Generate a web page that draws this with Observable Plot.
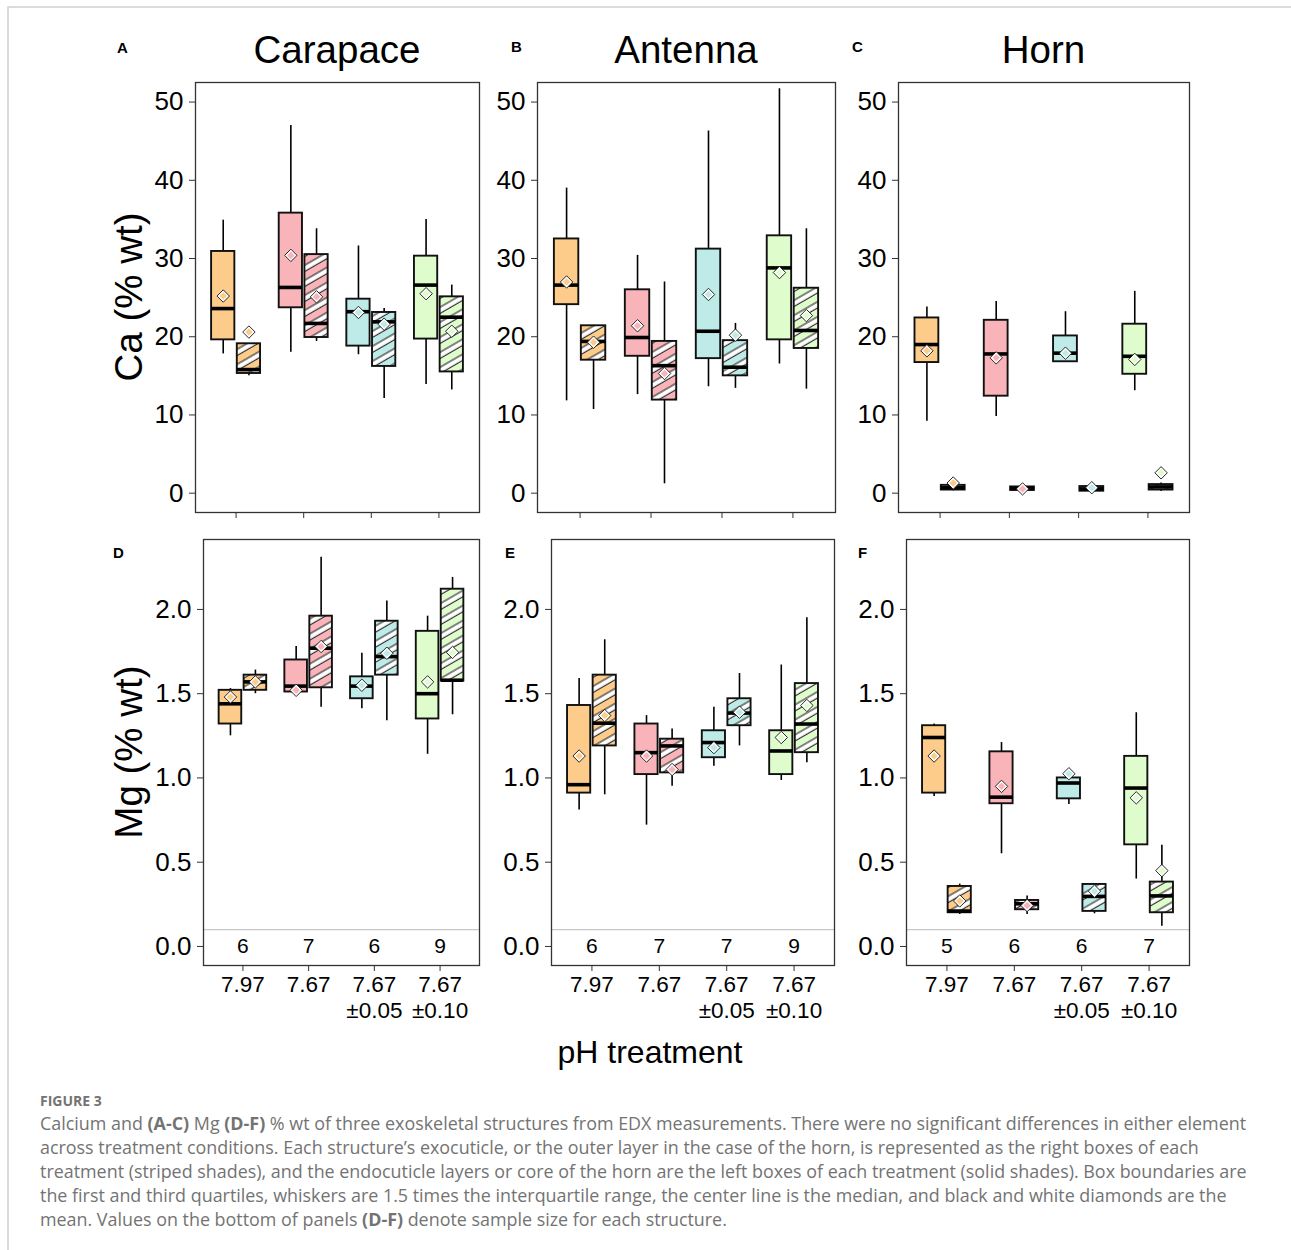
<!DOCTYPE html>
<html>
<head>
<meta charset="utf-8">
<script src="https://cdn.jsdelivr.net/npm/d3@7"></script>
<script src="https://cdn.jsdelivr.net/npm/@observablehq/plot@0.6"></script>
<style>
  body { margin: 0; background: #fff; }
  #fig { position: relative; width: 1291px; height: 1250px; overflow: hidden; font-family: "Liberation Sans", Arial, sans-serif; }
  .panel { position: absolute; }
  #overlay { position: absolute; left: 0; top: 0; pointer-events: none; }
</style>
</head>
<body>
<div id="fig">
  <svg width="0" height="0" style="position:absolute">
    <defs>
      <pattern id="stripes" patternUnits="userSpaceOnUse" width="13" height="13" patternTransform="rotate(-30)">
        <rect x="0" y="3" width="13" height="5.4" fill="white"></rect>
        <line x1="0" y1="3" x2="13" y2="3" stroke="#222" stroke-width="1.1"></line>
        <line x1="0" y1="8.4" x2="13" y2="8.4" stroke="#222" stroke-width="1.1"></line>
      </pattern>
    </defs>
  </svg>
</div>
<script>
// ---------- data ----------
const treatments = ["7.97", "7.67", "7.67\n±0.05", "7.67\n±0.10"];
const layers = ["endocuticle / core (solid)", "exocuticle / outer layer (striped)"];
const treatmentFills = ["#FDCB8A", "#F9B4BA", "#BEEAE8", "#DFFDCC"];

// rows: [lower whisker, Q1, median, Q3, upper whisker, mean]
// order: 7.97 solid, 7.97 striped, 7.67 solid, 7.67 striped, ±0.05 solid, ±0.05 striped, ±0.10 solid, ±0.10 striped
const caCarapace = [
  [17.8, 19.6, 23.6, 30.9, 34.9, 25.2],
  [15.0, 15.3, 15.8, 19.1, 19.1, 20.6],
  [18.0, 23.7, 26.3, 35.8, 47.0, 30.4],
  [19.4, 19.9, 21.7, 30.5, 33.8, 25.1],
  [17.7, 18.8, 23.2, 24.8, 31.6, 23.1],
  [12.1, 16.2, 21.9, 23.1, 23.6, 21.6],
  [13.9, 19.7, 26.6, 30.3, 35.0, 25.5],
  [13.2, 15.5, 22.5, 25.1, 26.6, 20.7]
];
const caAntenna = [
  [11.8, 24.1, 26.6, 32.5, 39.0, 27.0],
  [10.7, 17.0, 19.4, 21.4, 21.4, 19.3],
  [12.6, 17.5, 19.9, 26.0, 30.4, 21.4],
  [1.2, 11.9, 16.3, 19.4, 27.0, 15.3],
  [13.6, 17.2, 20.7, 31.2, 46.3, 25.4],
  [13.4, 15.0, 16.1, 19.5, 21.7, 20.2],
  [16.5, 19.6, 28.8, 32.9, 51.7, 28.2],
  [13.3, 18.5, 20.8, 26.2, 33.8, 22.7]
];
const caHorn = [
  [9.2, 16.7, 19.0, 22.4, 23.8, 18.2],
  [0.3, 0.4, 0.7, 1.0, 1.1, 1.3],
  [9.8, 12.4, 17.8, 22.1, 24.5, 17.3],
  [0.3, 0.35, 0.6, 0.8, 0.8, 0.55],
  [16.8, 16.8, 17.9, 20.1, 23.2, 17.9],
  [0.25, 0.25, 0.55, 0.85, 0.85, 0.7],
  [13.1, 15.2, 17.5, 21.6, 25.8, 17.1],
  [0.2, 0.4, 0.8, 1.1, 1.3, 2.6]
];
const mgCarapace = [
  [1.25, 1.32, 1.44, 1.52, 1.53, 1.48],
  [1.50, 1.52, 1.57, 1.61, 1.64, 1.57],
  [1.51, 1.51, 1.545, 1.70, 1.78, 1.52],
  [1.42, 1.535, 1.77, 1.96, 2.31, 1.78],
  [1.41, 1.47, 1.545, 1.60, 1.74, 1.55],
  [1.34, 1.61, 1.72, 1.93, 2.05, 1.74],
  [1.14, 1.35, 1.50, 1.87, 1.96, 1.57],
  [1.375, 1.575, 1.58, 2.12, 2.19, 1.745]
];
const mgAntenna = [
  [0.81, 0.91, 0.96, 1.43, 1.59, 1.13],
  [0.90, 1.19, 1.325, 1.61, 1.82, 1.37],
  [0.72, 1.02, 1.15, 1.32, 1.37, 1.13],
  [0.95, 1.03, 1.19, 1.23, 1.29, 1.05],
  [1.07, 1.12, 1.21, 1.28, 1.42, 1.18],
  [1.19, 1.31, 1.385, 1.47, 1.62, 1.39],
  [0.985, 1.02, 1.16, 1.28, 1.67, 1.24],
  [1.09, 1.15, 1.32, 1.56, 1.95, 1.43]
];
const mgHorn = [
  [0.89, 0.91, 1.24, 1.31, 1.32, 1.13],
  [0.19, 0.20, 0.21, 0.356, 0.37, 0.27],
  [0.55, 0.847, 0.886, 1.155, 1.21, 0.95],
  [0.19, 0.218, 0.253, 0.273, 0.30, 0.243],
  [0.843, 0.876, 0.97, 1.0, 1.0, 1.025],
  [0.194, 0.208, 0.297, 0.368, 0.37, 0.328],
  [0.40, 0.603, 0.94, 1.128, 1.387, 0.882],
  [0.12, 0.20, 0.30, 0.382, 0.60, 0.45]
];
const nCarapace = [6, 7, 6, 9];
const nAntenna = [6, 7, 7, 9];
const nHorn = [5, 6, 6, 7];
const caTicks = [0, 10, 20, 30, 40, 50];
const mgTicks = [0, 0.5, 1.0, 1.5, 2.0];
const nLineLevel = 0.1;

const structures = ["Carapace", "Antenna", "Horn"];
const panelLetters = ["A", "B", "C", "D", "E", "F"];

// ---------- helpers ----------
function records(rows) {
  return rows.map((r, i) => ({
    t: Math.floor(i / 2) + 1,
    layer: layers[i % 2],
    striped: i % 2 === 1,
    lo: r[0], q1: r[1], med: r[2], q3: r[3], hi: r[4], mean: r[5],
    fill: treatmentFills[Math.floor(i / 2)]
  }));
}
const OFF = 0.19, HW = 0.172;
const cx = d => d.t + (d.striped ? OFF : -OFF);

function panel({rows, frame, ydomain, yticks, yfmt, n, showXLabels}) {
  const data = records(rows);
  const ml = 66, mr = 4, mt = 4, mb = showXLabels ? 70 : 14;
  const fw = frame[1] - frame[0], fh = frame[3] - frame[2];
  const marks = [
    Plot.axisY(yticks, {tickSize: 6, tickPadding: 6, fontSize: 26, tickFormat: yfmt, label: null, stroke: "#333"}),
    Plot.axisX([1, 2, 3, 4], {
      tickSize: 6, tickPadding: 3, fontSize: 22.5, lineHeight: 1.12, label: null, stroke: "#333",
      tickFormat: showXLabels ? (i => treatments[i - 1]) : (() => "")
    })
  ];
  if (n) {
    marks.push(Plot.ruleY([nLineLevel], {stroke: "#c8c8c8", strokeWidth: 1.3}));
    marks.push(Plot.text(n, {x: (d, i) => i + 1, y: 0, text: d => String(d), fontSize: 21, fill: "black"}));
  }
  marks.push(
    Plot.ruleX(data, {x: cx, y1: "lo", y2: "hi", stroke: "black", strokeWidth: 1.6}),
    Plot.rect(data, {x1: d => cx(d) - HW, x2: d => cx(d) + HW, y1: "q1", y2: "q3", fill: "fill"}),
    Plot.rect(data.filter(d => d.striped), {x1: d => cx(d) - HW, x2: d => cx(d) + HW, y1: "q1", y2: "q3", fill: "url(#stripes)"}),
    Plot.rect(data, {x1: d => cx(d) - HW, x2: d => cx(d) + HW, y1: "q1", y2: "q3", fill: "none", stroke: "#111", strokeWidth: 1.9}),
    Plot.ruleY(data, {x1: d => cx(d) - HW, x2: d => cx(d) + HW, y: "med", stroke: "black", strokeWidth: 3.6}),
    Plot.dot(data, {x: cx, y: "mean", symbol: "diamond2", r: 5.6, fill: "white", stroke: "#111", strokeWidth: 0.9}),
    Plot.dot(data, {x: cx, y: "mean", symbol: "diamond2", r: 3.4, fill: "fill"}),
    Plot.frame({stroke: "#333", strokeWidth: 1.3})
  );
  const chart = Plot.plot({
    width: fw + ml + mr,
    height: fh + mt + mb,
    marginLeft: ml, marginRight: mr, marginTop: mt, marginBottom: mb,
    x: {domain: [0.4, 4.6], label: null},
    y: {domain: ydomain, label: null},
    color: {type: "identity"},
    style: {fontFamily: "'Liberation Sans', Arial, sans-serif", color: "black", background: "transparent", overflow: "visible"},
    marks
  });
  chart.classList.add("panel");
  chart.style.left = (frame[0] - ml) + "px";
  chart.style.top = (frame[2] - mt) + "px";
  chart.style.position = "absolute";
  document.getElementById("fig").appendChild(chart);
}

const caDomain = [-2.47, 52.5];
const mgDomain = [-0.113, 2.415];
const fmt1 = d3.format(".1f");
const fmt0 = d3.format("d");

panel({rows: caCarapace, frame: [195, 479, 82, 512], ydomain: caDomain, yticks: caTicks, yfmt: fmt0});
panel({rows: caAntenna, frame: [537, 835, 82, 512], ydomain: caDomain, yticks: caTicks, yfmt: fmt0});
panel({rows: caHorn, frame: [898, 1189, 82, 512], ydomain: caDomain, yticks: caTicks, yfmt: fmt0});
panel({rows: mgCarapace, frame: [203, 479, 539, 965], ydomain: mgDomain, yticks: mgTicks, yfmt: fmt1, n: nCarapace, showXLabels: true});
panel({rows: mgAntenna, frame: [551, 834, 539, 965], ydomain: mgDomain, yticks: mgTicks, yfmt: fmt1, n: nAntenna, showXLabels: true});
panel({rows: mgHorn, frame: [906, 1189, 539, 965], ydomain: mgDomain, yticks: mgTicks, yfmt: fmt1, n: nHorn, showXLabels: true});

// ---------- overlay text ----------
const svg = d3.select("#fig").append("svg").attr("id", "overlay").attr("width", 1291).attr("height", 1250)
  .style("font-family", "'Liberation Sans', Arial, sans-serif");

// figure border
svg.append("path").attr("d", "M8,1250 V7 H1291").attr("fill", "none").attr("stroke", "#cfcfcf").attr("stroke-width", 1.5);

const titleX = [337, 686, 1043.5];
structures.forEach((s, i) => svg.append("text").attr("x", titleX[i]).attr("y", 63).attr("text-anchor", "middle")
  .attr("font-size", 38.5).text(s));

const letterPos = [[117, 53], [511, 52], [852, 52], [113, 558], [505, 558], [858, 558]];
panelLetters.forEach((l, i) => svg.append("text").attr("x", letterPos[i][0]).attr("y", letterPos[i][1])
  .attr("font-size", 15).attr("font-weight", "bold").text(l));

svg.append("text").attr("transform", "translate(142,297) rotate(-90)").attr("text-anchor", "middle")
  .attr("font-size", 38.5).text("Ca (% wt)");
svg.append("text").attr("transform", "translate(142,752) rotate(-90)").attr("text-anchor", "middle")
  .attr("font-size", 38.5).text("Mg (% wt)");
svg.append("text").attr("x", 650).attr("y", 1063).attr("text-anchor", "middle").attr("font-size", 32).text("pH treatment");

// caption
const cap = svg.append("g").style("font-family", "'Open Sans', 'Noto Sans', sans-serif").attr("fill", "#737373");
cap.append("text").attr("x", 40).attr("y", 1106).attr("font-size", 14).attr("font-weight", "bold").text("FIGURE 3");
const capLines = [
  [["Calcium and ", 0], ["(A-C)", 1], [" Mg ", 0], ["(D-F)", 1], [" % wt of three exoskeletal structures from EDX measurements. There were no significant differences in either element", 0]],
  [["across treatment conditions. Each structure\u2019s exocuticle, or the outer layer in the case of the horn, is represented as the right boxes of each", 0]],
  [["treatment (striped shades), and the endocuticle layers or core of the horn are the left boxes of each treatment (solid shades). Box boundaries are", 0]],
  [["the first and third quartiles, whiskers are 1.5 times the interquartile range, the center line is the median, and black and white diamonds are the", 0]],
  [["mean. Values on the bottom of panels ", 0], ["(D-F)", 1], [" denote sample size for each structure.", 0]]
];
capLines.forEach((line, i) => {
  const t = cap.append("text").attr("x", 40).attr("y", 1130 + i * 24).attr("font-size", 17.9);
  line.forEach(([s, b]) => t.append("tspan").attr("font-weight", b ? "bold" : "normal").text(s));
});
</script>
</body>
</html>
